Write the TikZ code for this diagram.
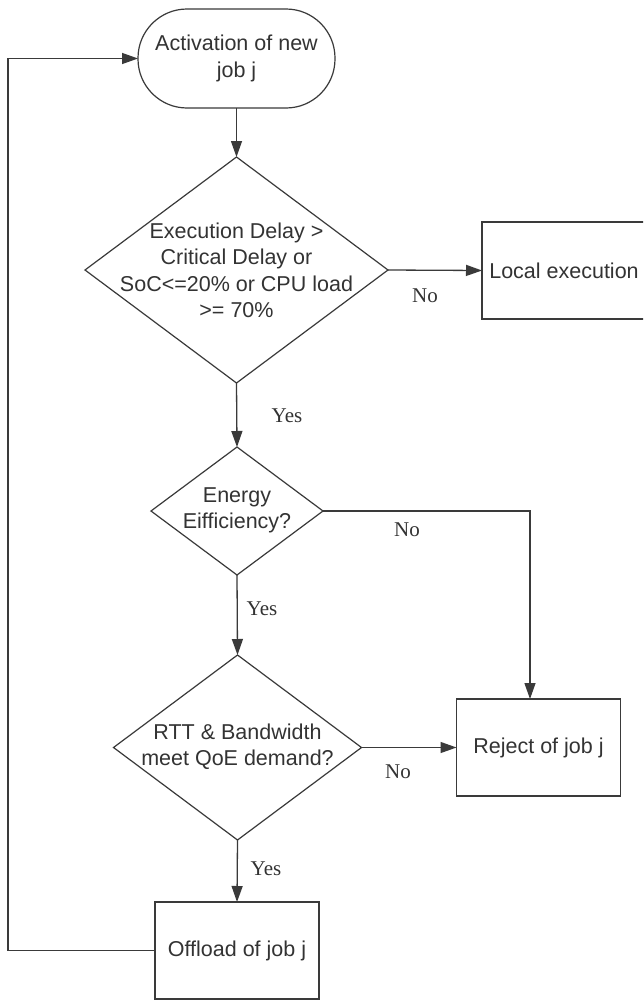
\documentclass[tikz,border=0pt]{standalone}
\usepackage{fontspec}
\setmainfont{Liberation Sans}
\newfontfamily\labelfont{Liberation Serif}
\usetikzlibrary{shapes.geometric,arrows.meta}
\definecolor{ink}{HTML}{333333}
\definecolor{edge}{HTML}{3A3A3A}
\begin{document}
\begin{tikzpicture}[x=1pt,y=-1pt,
  every node/.style={inner sep=0pt, outer sep=0pt},
  boxtxt/.style={font=\fontsize{21.5}{26.5}\selectfont, text=ink, align=center},
  stepbox/.style={draw=edge, line width=1.3pt, minimum width=164pt, minimum height=97pt},
  terminal/.style={draw=edge, line width=1.2pt, rounded corners=49pt, minimum width=197pt, minimum height=99pt},
  decision/.style={draw=edge, line width=1.2pt, diamond},
  flow/.style={draw=edge, line width=1.3pt, -{Triangle[length=16pt,width=11pt]}},
  answer/.style={font=\labelfont\fontsize{21}{24}\selectfont, text=ink}
]
\path[use as bounding box] (0,0) rectangle (643,1001);
\clip (0,0) rectangle (643,1001);
\fill[white] (0,0) rectangle (643,1001);

% process steps
\node[terminal, boxtxt] (start) at (236.5,58.5) {Activation of new\\job j};
\node[decision, minimum width=303pt, minimum height=226pt] (d1) at (236.5,270) {};
\node[boxtxt] (d1t) at (236.5,270.5) {Execution Delay >\\Critical Delay or\\SoC<=20\% or CPU load\\>= 70\%};
\node[stepbox, boxtxt] (local) at (564,270.5) {Local execution};
\node[decision, minimum width=172pt, minimum height=128pt] (d2) at (237,511) {};
\node[boxtxt] (d2t) at (237,510.5) {Energy\\Eifficiency?};
\node[decision, minimum width=248pt, minimum height=185pt] (d3) at (237.5,747.5) {};
\node[boxtxt] (d3t) at (237.5,746.5) {RTT \& Bandwidth\\meet QoE demand?};
\node[stepbox, boxtxt] (rej) at (538.5,747.5) {Reject of job j};
\node[stepbox, boxtxt] (off) at (237,950.5) {Offload of job j};
\coordinate (rejin) at (530,699);

% connectors
\draw[flow] (start.south) -- (d1.north);
\draw[flow] (d1.east) -- (local.west);
\draw[flow] (d1.south) -- (d2.north);
\draw[flow] (d2.east) -| (rejin);
\draw[flow] (d2.south) -- (d3.north);
\draw[flow] (d3.east) -- (rej.west |- d3.east);
\draw[flow] (d3.south) -- (off.north);
\draw[flow] (off.west) -- ++(-147,0) |- (start.west);

% branch labels
\node[answer] (no1) at (425,296) {No};
\node[answer] (yes1) at (287,416) {Yes};
\node[answer] (no2) at (407,530) {No};
\node[answer] (yes2) at (262,609) {Yes};
\node[answer] (no3) at (398,772) {No};
\node[answer] (yes3) at (266,869) {Yes};
\end{tikzpicture}
\end{document}
